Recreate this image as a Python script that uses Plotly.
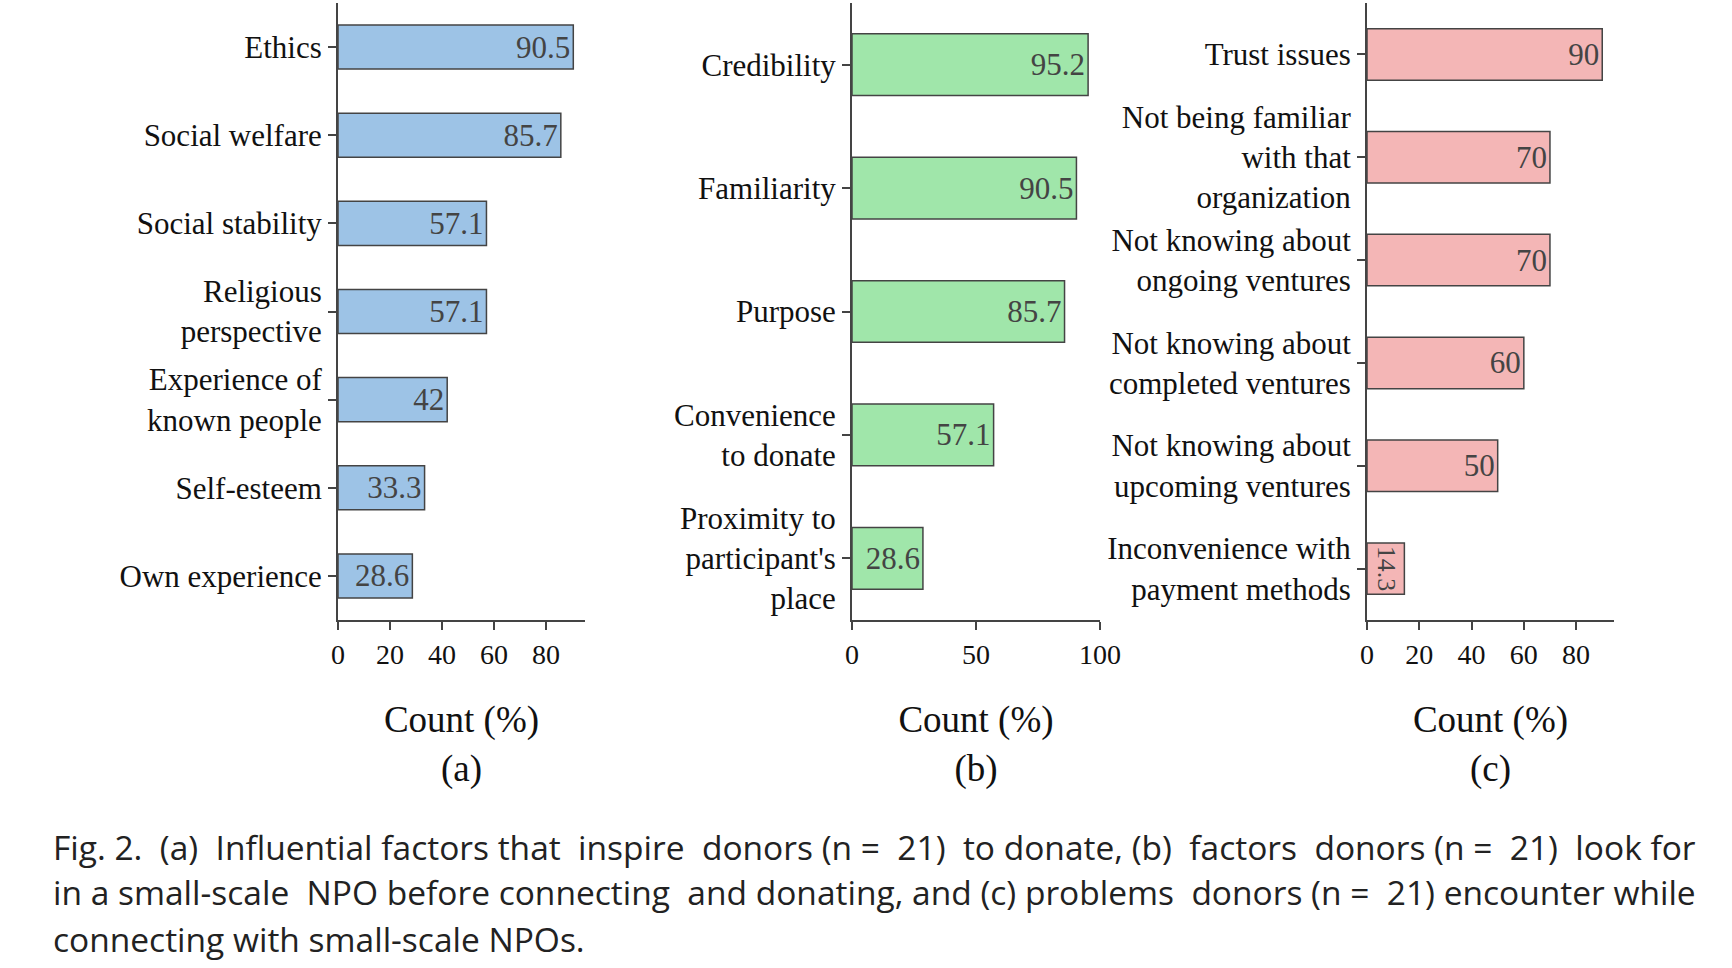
import plotly.graph_objects as go

# ---- data ----
cats_a = ["Ethics", "Social welfare", "Social stability", "Religious<br>perspective",
          "Experience of<br>known people", "Self-esteem", "Own experience"]
vals_a = [90.5, 85.7, 57.1, 57.1, 42, 33.3, 28.6]

cats_b = ["Credibility", "Familiarity", "Purpose", "Convenience<br>to donate",
          "Proximity to<br>participant's<br>place"]
vals_b = [95.2, 90.5, 85.7, 57.1, 28.6]

cats_c = ["Trust issues", "Not being familiar<br>with that<br>organization",
          "Not knowing about<br>ongoing ventures", "Not knowing about<br>completed ventures",
          "Not knowing about<br>upcoming ventures", "Inconvenience with<br>payment methods"]
vals_c = [90, 70, 70, 60, 50, 14.3]

panel_labels = ["(a)", "(b)", "(c)"]
xticks_a = [0, 20, 40, 60, 80]
xticks_b = [0, 50, 100]
xticks_c = [0, 20, 40, 60, 80]

caption_lines = [
    "Fig. 2. (a) Influential factors that inspire donors (n = 21) to donate, (b) factors donors (n = 21) look for",
    "in a small-scale NPO before connecting and donating, and (c) problems donors (n = 21) encounter while",
    "connecting with small-scale NPOs.",
]

# ---- style ----
W, H = 1732, 968
SERIF = "Liberation Serif, Times New Roman, serif"
AXC = "#444444"
colors = ["#9DC3E6", "#A0E6AA", "#F4B6B6"]
domains_px = [(338, 585), (852, 1100), (1367, 1614)]
xranges = [[0, 95], [0, 100], [0, 94.5]]
top_px, bot_px = 3, 620


def justify(line, extra):
    """Spread `extra` additional non-breaking spaces evenly over word gaps."""
    words = line.split(" ")
    gaps = len(words) - 1
    if extra <= 0 or gaps <= 0:
        return line
    out = words[0]
    given = 0
    for g in range(gaps):
        target = round((g + 1) * extra / gaps)
        add = target - given
        given = target
        out += " " + "\u00a0" * add + words[g + 1]
    return out


fig = go.Figure()
panels = [(cats_a, vals_a, xticks_a), (cats_b, vals_b, xticks_b), (cats_c, vals_c, xticks_c)]
for i, (cats, vals, xt) in enumerate(panels):
    n = i + 1
    xa = "x" if n == 1 else f"x{n}"
    ya = "y" if n == 1 else f"y{n}"
    fig.add_trace(go.Bar(
        x=vals, y=cats, orientation="h", xaxis=xa, yaxis=ya,
        marker=dict(color=colors[i], line=dict(color=AXC, width=1.5)),
        text=[f"{v:g}" for v in vals], textposition="inside", insidetextanchor="end",
        textfont=dict(family=SERIF, size=31, color="#444444"),
        showlegend=False, width=0.5,
    ))
    d0, d1 = domains_px[i]
    xkey = "xaxis" if n == 1 else f"xaxis{n}"
    ykey = "yaxis" if n == 1 else f"yaxis{n}"
    fig.layout[xkey] = dict(
        domain=[d0 / W, d1 / W], anchor=ya, range=xranges[i],
        tickvals=xt, ticks="outside", ticklen=8, tickwidth=1.5, tickcolor=AXC,
        showline=True, linecolor=AXC, linewidth=2, showgrid=False, zeroline=False,
        tickfont=dict(family=SERIF, size=28, color="#111111"),
        title=dict(text=f"Count (%)<br>{panel_labels[i]}", standoff=38,
                   font=dict(family=SERIF, size=37, color="#111111")),
        automargin=False,
    )
    fig.layout[ykey] = dict(
        domain=[1 - bot_px / H, 1 - top_px / H], anchor=xa,
        autorange="reversed", type="category",
        ticks="outside", ticklen=8, tickwidth=1.5, tickcolor=AXC,
        showline=True, linecolor=AXC, linewidth=2, showgrid=False,
        tickfont=dict(family=SERIF, size=31, color="#111111"),
        automargin=False,
    )

caption_y = [847, 892, 939]
caption_extra = [10, 4, 0]
for line, yp, ex in zip(caption_lines, caption_y, caption_extra):
    fig.add_annotation(
        text=justify(line, ex), xref="paper", yref="paper", x=51 / W, y=1 - yp / H,
        xanchor="left", yanchor="middle", showarrow=False,
        font=dict(family="Open Sans, Noto Sans, sans-serif", size=33.5, color="#222222"),
    )

fig.update_layout(
    width=W, height=H, margin=dict(l=0, r=0, t=0, b=0),
    paper_bgcolor="white", plot_bgcolor="white",
    bargap=0.5,
)

fig.write_html("out.html")
